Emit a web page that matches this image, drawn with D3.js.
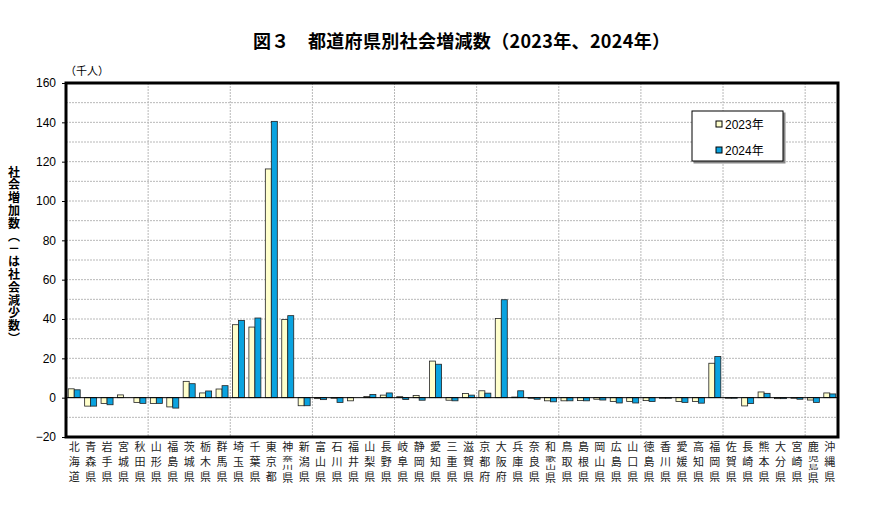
<!DOCTYPE html>
<html>
<head>
<meta charset="utf-8">
<script src="https://cdn.jsdelivr.net/npm/d3@7"></script>
<style>
  body { margin: 0; background: #fff; }
  svg { display: block; font-family: "Noto Sans CJK JP", "Noto Sans", sans-serif; }
</style>
</head>
<body>
<svg id="chart" width="870" height="508"></svg>
<script>
const prefectures = ['北海道','青森県','岩手県','宮城県','秋田県','山形県','福島県','茨城県','栃木県','群馬県',
    '埼玉県','千葉県','東京都','神奈川県','新潟県','富山県','石川県','福井県','山梨県','長野県',
    '岐阜県','静岡県','愛知県','三重県','滋賀県','京都府','大阪府','兵庫県','奈良県','和歌山県',
    '鳥取県','島根県','岡山県','広島県','山口県','徳島県','香川県','愛媛県','高知県','福岡県',
    '佐賀県','長崎県','熊本県','大分県','宮崎県','鹿児島県','沖縄県'];

// 社会増減数（千人）
const values2023 = [4.5, -4.3, -3.0, 1.4, -2.4, -3.0, -4.7, 8.3, 2.4, 4.4,
    37.1, 35.9, 116.3, 39.7, -4.1, -0.5, -0.3, -1.6, 0.6, 1.3,
    0.5, 1.1, 18.6, -1.3, 2.1, 3.5, 40.3, 0.3, -0.3, -1.6,
    -1.6, -1.5, -0.8, -1.9, -1.9, -1.5, -0.3, -2.0, -2.0, 17.5,
    -0.3, -4.2, 2.9, -0.5, -0.3, -1.2, 2.4];
const values2024 = [4.0, -4.3, -3.6, 0, -2.9, -2.9, -5.3, 7.1, 3.4, 6.1,
    39.3, 40.5, 140.5, 41.7, -4.1, -1.0, -2.4, 0, 1.6, 2.4,
    -0.9, -1.3, 17.0, -1.6, 1.3, 2.3, 49.8, 3.5, -0.8, -2.1,
    -1.6, -1.6, -1.2, -2.7, -2.7, -2.0, -0.3, -2.4, -2.8, 20.9,
    -0.3, -3.0, 2.2, -0.5, -0.8, -2.4, 1.9];
const seriesNames = ['2023年', '2024年'];
const seriesColors = ['#FFFFCC', '#0AA3E0'];
const yTicks = [-20, 0, 20, 40, 60, 80, 100, 120, 140, 160];
const yGrid = d3.range(-20, 161, 10);
const axisLabel = '社会増加数︵－は社会減少数︶';

const svg = d3.select('#chart');
const plot = { left: 66, right: 838, top: 83, bottom: 437 };

const x = d3.scaleBand().domain(prefectures).range([plot.left, plot.right]).padding(0);
const xSub = d3.scaleBand().domain(seriesNames).range([0, x.bandwidth()]).paddingInner(0).paddingOuter(0.37);
const y = d3.scaleLinear().domain([-20, 160]).range([plot.bottom, plot.top]);

// title
svg.append('text')
    .attr('x', 253).attr('y', 48)
    .attr('textLength', 417).attr('lengthAdjust', 'spacing')
    .style('font-size', '18px').style('font-weight', 'bold')
    .text('図３　都道府県別社会増減数（2023年、2024年）');

// grid
const grid = svg.append('g');
grid.selectAll('line.h')
    .data(yGrid.filter(v => v !== 0 && v !== -20 && v !== 160))
    .enter().append('line')
    .attr('x1', plot.left).attr('x2', plot.right)
    .attr('y1', d => y(d)).attr('y2', d => y(d))
    .attr('stroke', '#b8b8b8').attr('stroke-dasharray', '2,1');
grid.selectAll('line.v')
    .data(prefectures.filter((d, i) => i > 0 && i % 5 === 0))
    .enter().append('line')
    .attr('x1', d => x(d)).attr('x2', d => x(d))
    .attr('y1', plot.top).attr('y2', plot.bottom)
    .attr('stroke', '#b8b8b8').attr('stroke-dasharray', '2,1');

// bars
const groups = svg.append('g').selectAll('g')
    .data(prefectures.map((p, i) => ({ name: p, vals: [values2023[i], values2024[i]] })))
    .enter().append('g')
    .attr('transform', d => `translate(${x(d.name)},0)`);

groups.selectAll('rect')
    .data(d => d.vals.map((v, j) => ({ key: seriesNames[j], v, j })))
    .enter().append('rect')
    .attr('x', d => xSub(d.key))
    .attr('width', xSub.bandwidth())
    .attr('y', d => Math.min(y(d.v), y(0)))
    .attr('height', d => Math.abs(y(d.v) - y(0)))
    .attr('fill', d => seriesColors[d.j])
    .attr('stroke', '#222')
    .attr('stroke-width', 0.8);

// zero line
svg.append('line')
    .attr('x1', plot.left).attr('x2', plot.right)
    .attr('y1', y(0)).attr('y2', y(0))
    .attr('stroke', '#000').attr('stroke-width', 1);

// frame
svg.append('rect')
    .attr('x', plot.left).attr('y', plot.top)
    .attr('width', plot.right - plot.left).attr('height', plot.bottom - plot.top)
    .attr('fill', 'none').attr('stroke', '#000').attr('stroke-width', 3);

// y axis
const yAxis = svg.append('g')
    .attr('transform', `translate(${plot.left},0)`)
    .call(d3.axisLeft(y).tickValues(yTicks).tickSize(4).tickPadding(6));
yAxis.select('.domain').remove();
yAxis.selectAll('text')
    .style('font-family', '"Liberation Sans", Arial, sans-serif')
    .style('font-size', '12px').attr('fill', '#000');

svg.append('text')
    .attr('x', 65).attr('y', 75)
    .style('font-size', '11px')
    .text('（千人）');

// y axis label, vertical writing
svg.append('text')
    .attr('x', 14).attr('y', 166)
    .style('writing-mode', 'vertical-rl')
    .style('text-orientation', 'upright')
    .style('letter-spacing', '0.8px')
    .style('font-size', '12px').style('font-weight', 'bold')
    .text(axisLabel);

// category labels, one character per row
const catLabels = svg.append('g');
prefectures.forEach(p => {
    const cx = x(p) + x.bandwidth() / 2;
    const chars = Array.from(p);
    const g = catLabels.append('g').attr('transform', `translate(${cx},0)`);
    const add = (ch, yy, fs, sx) => g.append('text')
        .attr('text-anchor', 'middle')
        .attr('transform', `translate(0,${yy}) scale(${sx},1)`)
        .style('font-size', fs + 'px').attr('fill', '#222')
        .text(ch);
    if (chars.length === 3) {
        add(chars[0], 451, 11, 1);
        add(chars[1], 466, 11, 1);
        add(chars[2], 481, 11, 1);
    } else {
        // middle characters squeezed into one row (flat glyphs)
        add(chars[0], 451, 11, 1);
        add(chars[1], 460.5, 6, 1.8);
        add(chars[2], 468.5, 6, 1.8);
        add(chars[3], 482, 11, 1);
    }
});

// legend
const legend = svg.append('g').attr('transform', 'translate(692,111)');
legend.append('rect')
    .attr('x', 1.5).attr('y', 1.5).attr('width', 92).attr('height', 51)
    .attr('fill', '#888');
legend.append('rect')
    .attr('width', 91).attr('height', 50)
    .attr('fill', '#fff').attr('stroke', '#000').attr('stroke-width', 1);
seriesNames.forEach((s, i) => {
    legend.append('rect')
        .attr('x', 24).attr('y', 10 + i * 26)
        .attr('width', 6).attr('height', 6)
        .attr('fill', seriesColors[i]).attr('stroke', '#000');
    legend.append('text')
        .attr('x', 33).attr('y', 18 + i * 26)
        .style('font-family', '"Liberation Sans", "Noto Sans CJK JP", sans-serif')
        .style('font-size', '12px')
        .text(s);
});
</script>
</body>
</html>
